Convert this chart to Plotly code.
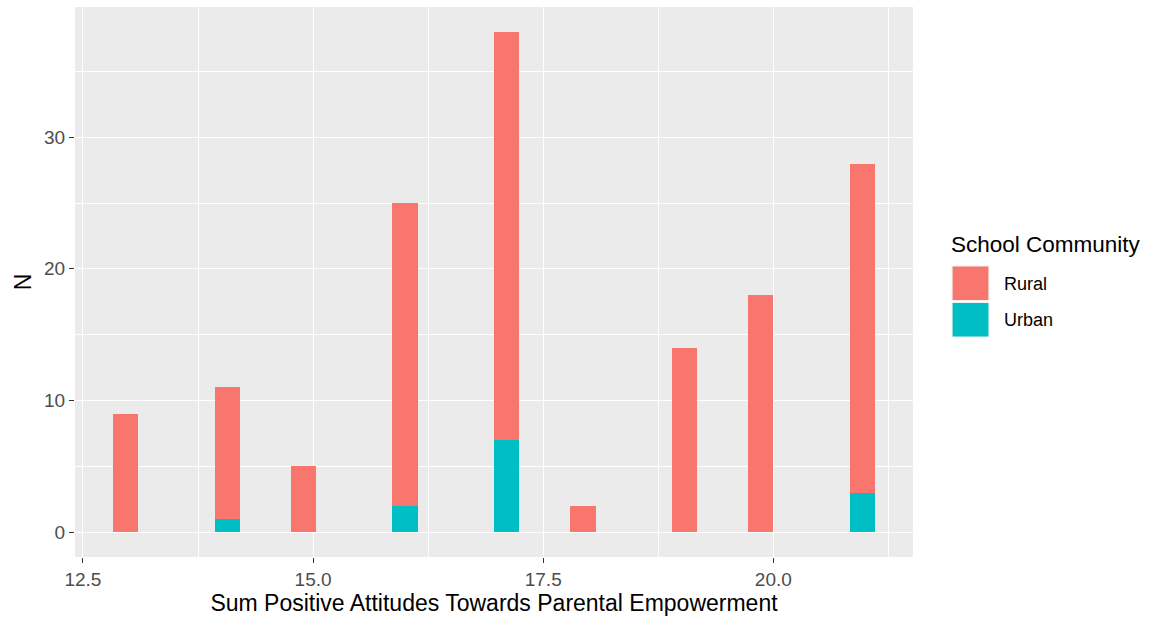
import math
import plotly.graph_objects as go

# Data: score values and counts per school community
scores = [13, 14, 15, 16, 17, 18, 19, 20, 21]
rural_counts = [9, 10, 5, 23, 31, 2, 14, 18, 25]
urban_counts = [0, 1, 0, 2, 7, 0, 0, 0, 3]
groups = ["Rural", "Urban"]
x_ticks = [12.5, 15.0, 17.5, 20.0]
x_tick_labels = ["12.5", "15.0", "17.5", "20.0"]
y_ticks = [0, 10, 20, 30]

# ggplot2-style binning with bins = 30 (right-closed bins, centres at multiples of width)
n_bins = 30
lo, hi = min(scores), max(scores)
bw = (hi - lo) / (n_bins - 1)
centers = [math.ceil(s / bw - 0.5 - 1e-7) * bw for s in scores]

totals = [r + u for r, u in zip(rural_counts, urban_counts)]
x_min = centers[0] - bw / 2
x_max = centers[-1] + bw / 2
x_pad = (x_max - x_min) * 0.05
y_pad = max(totals) * 0.05

COLORS = {"Rural": "#F8766D", "Urban": "#00BFC4"}
FONT = "Liberation Sans, Arial, sans-serif"

W, H = 1154, 617
ML, MR, MT, MB = 75, 241, 7, 60
PW, PH = W - ML - MR, H - MT - MB


def px_x(px):
    return (px - ML) / PW


def px_y(py):
    return (H - MB - py) / PH


fig = go.Figure()
fig.add_trace(go.Bar(x=centers, y=urban_counts, width=bw, name="Urban",
                     marker=dict(color=COLORS["Urban"], line=dict(width=0)),
                     showlegend=False))
fig.add_trace(go.Bar(x=centers, y=rural_counts, width=bw, name="Rural",
                     marker=dict(color=COLORS["Rural"], line=dict(width=0)),
                     showlegend=False))

# Legend drawn in ggplot2 style (large keys)
shapes = []
annotations = [dict(text="School Community", xref="paper", yref="paper",
                    x=px_x(949), y=px_y(244), xanchor="left", yanchor="middle",
                    showarrow=False, font=dict(size=22.5, color="black", family=FONT))]
key_top = 266
key_h = 35.5
for i, g in enumerate(groups):
    y0 = key_top + i * (key_h + 1)
    shapes.append(dict(type="rect", xref="paper", yref="paper",
                       x0=px_x(952), x1=px_x(989), y0=px_y(y0 + key_h - 1), y1=px_y(y0),
                       fillcolor=COLORS[g], line=dict(color="#F2F2F2", width=1.2)))
    annotations.append(dict(text=g, xref="paper", yref="paper",
                            x=px_x(1002), y=px_y(y0 + key_h / 2), xanchor="left",
                            yanchor="middle", showarrow=False,
                            font=dict(size=18, color="black", family=FONT)))

fig.update_layout(
    width=W, height=H,
    barmode="stack", bargap=0,
    paper_bgcolor="white", plot_bgcolor="#EBEBEB",
    margin=dict(l=ML, r=MR, t=MT, b=MB, autoexpand=False),
    font=dict(family=FONT, color="#4D4D4D"),
    showlegend=False,
    shapes=shapes,
    annotations=annotations,
)
fig.update_xaxes(
    range=[x_min - x_pad, x_max + x_pad],
    tickvals=x_ticks, ticktext=x_tick_labels,
    tickfont=dict(size=19, color="#4D4D4D"),
    ticks="outside", ticklen=5, tickcolor="#333333", tickwidth=1.2,
    showgrid=True, gridcolor="white", gridwidth=1.4,
    minor=dict(tickvals=[13.75, 16.25, 18.75, 21.25], showgrid=True,
               gridcolor="white", gridwidth=0.7, ticks=""),
    zeroline=False, showline=False, automargin=False,
    title=dict(text="Sum Positive Attitudes Towards Parental Empowerment",
               font=dict(size=23, color="black"), standoff=2),
)
fig.update_yaxes(
    range=[-y_pad, max(totals) + y_pad],
    tickvals=y_ticks,
    tickfont=dict(size=19, color="#4D4D4D"),
    ticks="outside", ticklen=5, tickcolor="#333333", tickwidth=1.2,
    showgrid=True, gridcolor="white", gridwidth=1.4,
    minor=dict(tickvals=[5, 15, 25, 35], showgrid=True,
               gridcolor="white", gridwidth=0.7, ticks=""),
    zeroline=False, showline=False, automargin=False,
    title=dict(text="N", font=dict(size=23, color="black"), standoff=6),
)

fig.write_html("out.html", config={"displayModeBar": False},
               post_script="document.body.style.margin='0';document.body.style.padding='0';")
